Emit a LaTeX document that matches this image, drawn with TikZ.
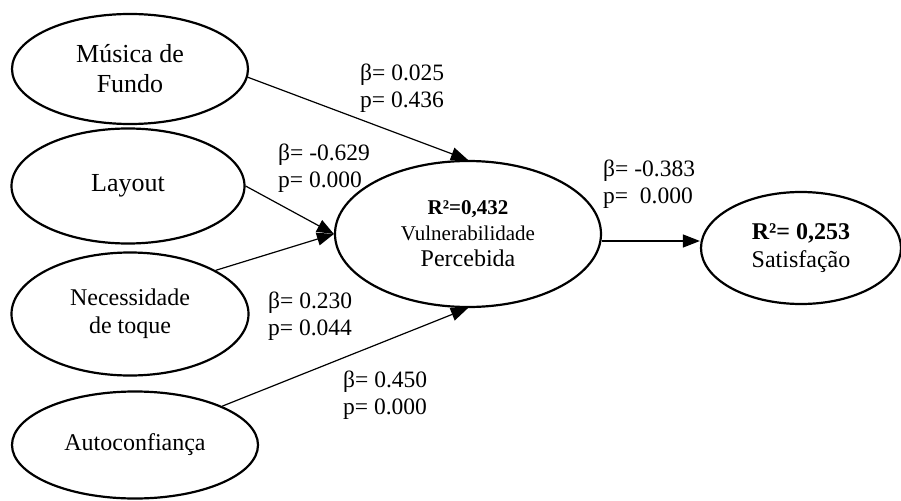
\documentclass[tikz,border=0pt]{standalone}
\usepackage{fontspec}
\setmainfont{Liberation Serif}
\usetikzlibrary{shapes.geometric,arrows.meta}
\begin{document}
\begin{tikzpicture}[x=1pt,y=-1pt]
\tikzstyle{every node}+=[inner sep=0pt]
\tikzstyle{construct}=[draw=black, line width=2.2pt, ellipse, align=center]
\tikzstyle{link}=[black, line width=1.2pt, -{Triangle[length=17pt,width=13pt]}]
\tikzstyle{coef}=[anchor=west, align=left, font=\fontsize{23.5}{27}\selectfont]
\useasboundingbox (0,0) rectangle (901,500);
% constructos
\node [construct, minimum width=236, minimum height=110, font=\fontsize{26}{30}\selectfont] (musica) at (130,69) {Música de\\Fundo};
\node [construct, minimum width=233, minimum height=115, font=\fontsize{26}{30}\selectfont] (layout) at (128,186) {Layout};
\node [construct, minimum width=237, minimum height=123, font=\fontsize{24}{28}\selectfont] (toque) at (130,314) {Necessidade\\de toque};
\node [construct, minimum width=246, minimum height=107, font=\fontsize{24}{28}\selectfont] (auto) at (135,445) {Autoconfiança};
\node [construct, minimum width=266, minimum height=146, font=\fontsize{24}{26}\selectfont] (vuln) at (468,234) {{\fontsize{21}{25}\selectfont\bfseries R²=0,432}\\{\fontsize{21}{26}\selectfont Vulnerabilidade}\\Percebida};
\node [construct, minimum width=200, minimum height=112, font=\fontsize{24}{28}\selectfont] (sat) at (801,248) {\textbf{R²= 0,253}\\Satisfação};
% caminhos
\draw [link] (musica.-4) -- (vuln.north);
\draw [link] (layout.east) -- (vuln.west);
\draw [link] (toque.27) -- (vuln.west);
\draw [link] (auto.24) -- (vuln.south);
\draw [link] (vuln.-3) -- (vuln.-3 -| sat.west);
% coeficientes
\node [coef] (cMusica) at (360,88.5) {β= 0.025\\p= 0.436};
\node [coef] (cLayout) at (278,168.5) {β= -0.629\\p= 0.000};
\node [coef] (cToque) at (268,316) {β= 0.230\\p= 0.044};
\node [coef] (cAuto) at (343,395) {β= 0.450\\p= 0.000};
\node [coef] (cVuln) at (603,184) {β= -0.383\\p=\ \ 0.000};
\end{tikzpicture}
\end{document}
